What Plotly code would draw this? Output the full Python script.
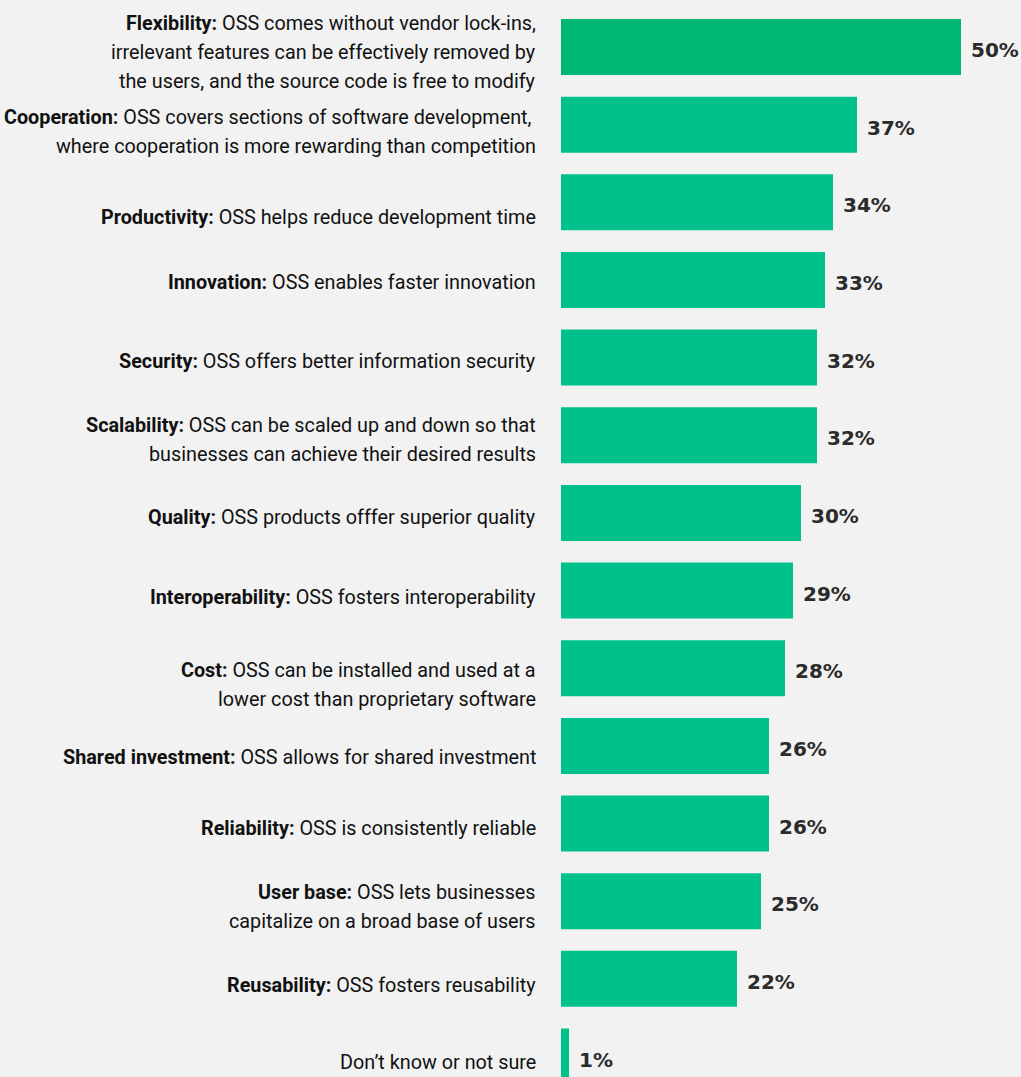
import plotly.graph_objects as go

# Benefits of open source software, share of respondents (%)
categories = [
    "Flexibility", "Cooperation", "Productivity", "Innovation", "Security",
    "Scalability", "Quality", "Interoperability", "Cost", "Shared investment",
    "Reliability", "User base", "Reusability", "Don\u2019t know or not sure",
]
descriptions = [
    ["OSS comes without vendor lock-ins,",
     "irrelevant features can be effectively removed by",
     "the users, and the source code is free to modify"],
    ["OSS covers sections of software development, ",
     "where cooperation is more rewarding than competition"],
    ["OSS helps reduce development time"],
    ["OSS enables faster innovation"],
    ["OSS offers better information security"],
    ["OSS can be scaled up and down so that",
     "businesses can achieve their desired results"],
    ["OSS products offfer superior quality"],
    ["OSS fosters interoperability"],
    ["OSS can be installed and used at a",
     "lower cost than proprietary software"],
    ["OSS allows for shared investment"],
    ["OSS is consistently reliable"],
    ["OSS lets businesses",
     "capitalize on a broad base of users"],
    ["OSS fosters reusability"],
    [],
]
values = [50, 37, 34, 33, 32, 32, 30, 29, 28, 26, 26, 25, 22, 1]

# Downward nudge (px) of each left-hand label block relative to its bar centre
label_drop = [5, 7, 15, 3, 4, 5, 5, 7, 17, 12, 5, 6, 7, 6]
LINE_PITCH = 29  # px between wrapped label lines

BG = "#F2F2F2"
LEAD = "#00B873"
BAR = "#00C18B"
TEXT = "#111111"
LABEL_FONT = "Roboto, sans-serif"
VALUE_FONT = "DejaVu Sans, sans-serif"

colors = [LEAD] + [BAR] * (len(values) - 1)

fig = go.Figure(
    go.Bar(
        x=values,
        y=categories,
        orientation="h",
        marker=dict(color=colors, line=dict(width=0)),
        hoverinfo="skip",
    )
)

annotations = []
for cat, desc, val, drop in zip(categories, descriptions, values, label_drop):
    if desc:
        lines = [f"<b>{cat}:</b> {desc[0]}"] + desc[1:]
    else:
        lines = [cat]
    n = len(lines)
    for i, line in enumerate(lines):
        offset = (i - (n - 1) / 2) * LINE_PITCH + drop
        annotations.append(dict(
            x=0, y=cat, xref="x", yref="y",
            text=line, showarrow=False,
            xanchor="right", yanchor="middle", align="right",
            xshift=-23, yshift=-offset,
            font=dict(family=LABEL_FONT, size=19.8, color=TEXT),
        ))
    annotations.append(dict(
        x=val, y=cat, xref="x", yref="y",
        text=f"<b>{val}%</b>", showarrow=False,
        xanchor="left", yanchor="middle",
        xshift=8, yshift=-3,
        font=dict(family=VALUE_FONT, size=20, color="#2B2B2B"),
    ))

fig.update_layout(
    width=1021, height=1077,
    margin=dict(l=561, r=0, t=0, b=0, pad=0),
    paper_bgcolor=BG, plot_bgcolor=BG,
    bargap=0.279,
    showlegend=False,
    annotations=annotations,
    xaxis=dict(range=[0, 57.5], visible=False, fixedrange=True),
    yaxis=dict(
        type="category",
        categoryorder="array", categoryarray=categories,
        range=[13.264, -0.6053],
        visible=False, fixedrange=True,
    ),
)

fig.write_html("out.html", config=dict(displayModeBar=False))
